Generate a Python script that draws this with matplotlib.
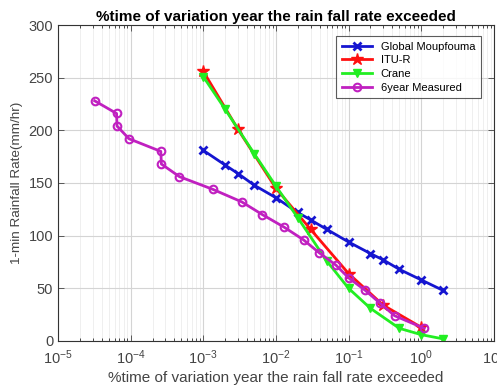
import numpy as np
import matplotlib
matplotlib.use('Agg')
import matplotlib.pyplot as plt
from matplotlib.ticker import LogLocator, NullFormatter

plt.rcParams['font.family'] = ['Liberation Sans', 'DejaVu Sans']
plt.rcParams['mathtext.fontset'] = 'custom'
plt.rcParams['mathtext.rm'] = 'Liberation Sans'

# data
moup_x = [0.001, 0.002, 0.003, 0.005, 0.01, 0.02, 0.03, 0.05, 0.1, 0.2, 0.3, 0.5, 1, 2]
moup_y = [181, 167, 159, 148, 136, 122, 115, 106, 94, 83, 77, 68, 58, 48]

itu_x = [0.001, 0.003, 0.01, 0.03, 0.1, 0.3, 1]
itu_y = [256, 201, 145, 106, 64, 34, 13]

crane_x = [0.001, 0.002, 0.005, 0.01, 0.02, 0.05, 0.1, 0.2, 0.5, 1, 2]
crane_y = [251, 220, 178, 147, 117, 76, 50, 31, 12, 6, 2]

meas_x = [3.2e-5, 6.4e-5, 6.5e-5, 9.5e-5, 2.6e-4, 2.65e-4, 4.7e-4, 1.35e-3, 3.4e-3,
          6.5e-3, 0.013, 0.024, 0.039, 0.067, 0.10, 0.17, 0.27, 0.43, 1.1]
meas_y = [228, 216, 204, 192, 180, 168, 156, 144, 132, 120, 108, 96, 84, 72, 60, 48, 36, 24, 12]

TITLE = '%time of variation year the rain fall rate exceeded'
FS = 10.5

fig = plt.figure(figsize=(4.97, 3.87), dpi=100)
fig.patch.set_facecolor('white')
ax = fig.add_axes([0.1167, 0.1189, 0.877, 0.8165])

ax.semilogx(moup_x, moup_y, color='#1515d0', lw=2, marker='x', ms=6, mew=2,
            label='Global Moupfouma')
ax.semilogx(itu_x, itu_y, color='#ff1010', lw=2, marker='*', ms=9,
            label='ITU-R')
ax.semilogx(crane_x, crane_y, color='#22ee22', lw=2, marker='v', ms=6,
            label='Crane')
ax.semilogx(meas_x, meas_y, color='#c020c0', lw=2, marker='o', ms=5.5, mew=1.5,
            mfc='none', label='6year Measured')

ax.set_xlim(1e-5, 10)
ax.set_ylim(0, 300)
ax.set_yticks(range(0, 301, 50))
ax.xaxis.set_major_locator(LogLocator(base=10, numticks=10))
ax.xaxis.set_minor_locator(LogLocator(base=10, subs=np.arange(2, 10), numticks=20))
ax.xaxis.set_minor_formatter(NullFormatter())

ax.grid(True, which='major', color='#d4d4d4', lw=0.8)
ax.grid(True, which='minor', axis='x', color='#ececec', lw=0.6)
ax.set_axisbelow(True)

ax.tick_params(direction='in', top=True, right=True, labelsize=FS, colors='#444444',
               length=4, width=0.6)
ax.tick_params(axis='x', pad=5)
ax.tick_params(which='minor', direction='in', top=True, right=True, length=2, width=0.5)
for sp in ax.spines.values():
    sp.set_linewidth(0.8)
    sp.set_color('#333333')

ax.set_title(TITLE, fontsize=11, fontweight='bold', pad=3)
ax.set_xlabel(TITLE, fontsize=11, color='#444444', labelpad=3)
ax.set_ylabel('1-min Rainfall Rate(mm/hr)', fontsize=9.7, color='#444444', labelpad=4)

leg = ax.legend(loc='upper right', fontsize=8, frameon=True, fancybox=False,
                edgecolor='#333333', handlelength=2.7, borderpad=0.5,
                labelspacing=0.33, borderaxespad=0, bbox_to_anchor=(0.97, 0.965))
leg.get_frame().set_linewidth(0.8)

fig.savefig('out.png', dpi=100, facecolor='white')
